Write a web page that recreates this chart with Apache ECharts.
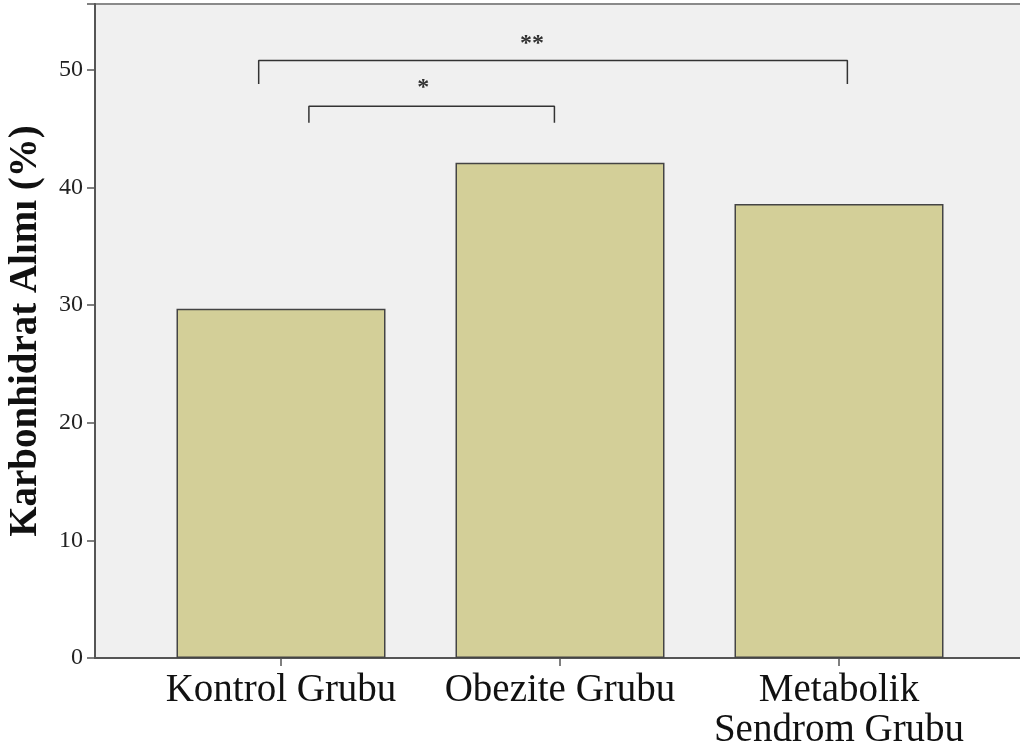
<!DOCTYPE html>
<html>
<head>
<meta charset="utf-8">
<script src="https://cdn.jsdelivr.net/npm/echarts@6/dist/echarts.min.js"></script>
<style>
  html, body { margin: 0; padding: 0; background: #fff; }
  #main { width: 1020px; height: 749px; }
</style>
</head>
<body>
<div id="main"></div>
<script>
// data
const categories = ['Kontrol Grubu', 'Obezite Grubu', 'Metabolik\nSendrom Grubu'];
const positions = [1, 2, 3];
const values = [29.7, 42.1, 38.6];
const yTicks = [0, 10, 20, 30, 40, 50];

// significance brackets (data units)
const bracketFrom = [0.92, 1.1];
const bracketTo = [3.03, 1.98];
const bracketTop = [50.8, 46.9];
const bracketDrop = [48.8, 45.5];
const bracketMarks = ['**', '*'];
const markX = [1.9, 1.51];
const markY = [52.2, 48.5];

const serif = '"Liberation Serif", "DejaVu Serif", serif';

let chart = echarts.init(document.getElementById('main'), null, { renderer: 'canvas' });

let bracketSeries = bracketFrom.map(function (x1, i) {
  return {
    type: 'line',
    symbol: 'none',
    silent: true,
    lineStyle: { color: '#333', width: 1.5 },
    data: [
      [x1, bracketDrop[i]],
      [x1, bracketTop[i]],
      [bracketTo[i], bracketTop[i]],
      [bracketTo[i], bracketDrop[i]]
    ],
    z: 5
  };
});

let option = {
  animation: false,
  grid: {
    left: 95,
    top: 4,
    width: 930,
    height: 654,
    outerBoundsMode: 'none',
    containLabel: false,
    show: true,
    backgroundColor: '#f0f0f0',
    borderColor: '#8a8a8a',
    borderWidth: 2
  },
  xAxis: {
    type: 'value',
    min: 1 / 3,
    max: 11 / 3,
    splitLine: { show: false },
    axisLine: { show: true, lineStyle: { color: '#555', width: 2 } },
    axisTick: {
      show: true,
      customValues: positions,
      length: 8,
      lineStyle: { color: '#555', width: 1.5 }
    },
    axisLabel: {
      customValues: positions,
      formatter: function (v) { return categories[Math.round(v) - 1]; },
      fontFamily: serif,
      fontSize: 39,
      color: '#111',
      lineHeight: 40,
      margin: 13
    }
  },
  yAxis: {
    type: 'value',
    min: 0,
    max: 55.6,
    interval: 10,
    name: 'Karbonhidrat Alımı (%)',
    nameLocation: 'middle',
    nameGap: 50,
    nameTextStyle: {
      fontFamily: serif,
      fontWeight: 'bold',
      fontSize: 39,
      color: '#111'
    },
    splitLine: { show: false },
    axisLine: { show: true, lineStyle: { color: '#555', width: 2 } },
    axisTick: { show: true, length: 8, lineStyle: { color: '#555', width: 1.5 } },
    axisLabel: {
      fontFamily: serif,
      fontSize: 24,
      color: '#222',
      margin: 12,
      formatter: function (v) { return yTicks.indexOf(v) >= 0 ? String(v) : ''; }
    }
  },
  series: [
    {
      type: 'bar',
      barWidth: 209,
      itemStyle: { color: '#d3cf98', borderColor: '#444', borderWidth: 1.5 },
      data: positions.map(function (p, i) { return [p, values[i]]; })
    }
  ].concat(bracketSeries).concat([
    {
      type: 'scatter',
      symbolSize: 0,
      silent: true,
      label: {
        show: true,
        position: 'inside',
        formatter: function (p) { return bracketMarks[p.dataIndex]; },
        fontFamily: serif,
        fontSize: 24,
        fontWeight: 'bold',
        color: '#000'
      },
      data: markX.map(function (x, i) { return [x, markY[i]]; }),
      z: 6
    }
  ])
};

chart.setOption(option);
</script>
</body>
</html>
